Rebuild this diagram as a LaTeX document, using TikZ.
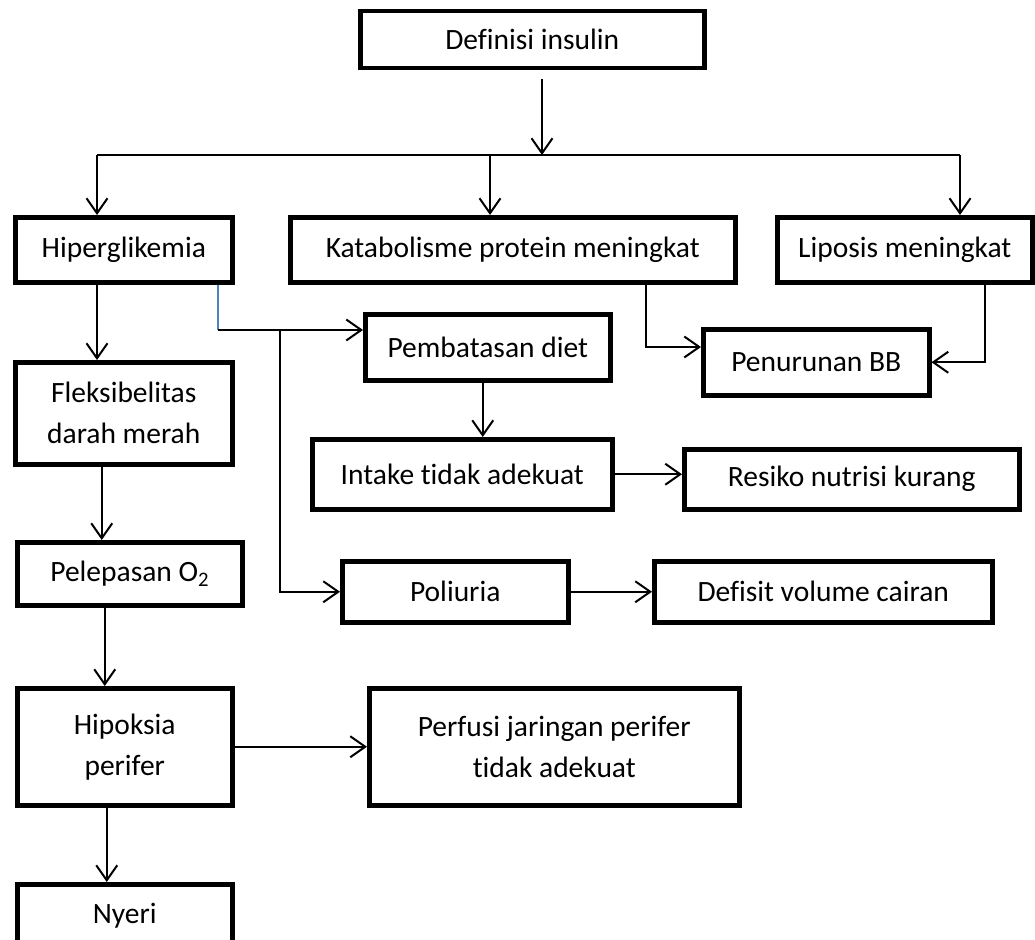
\documentclass[tikz,border=0pt]{standalone}
\usepackage{fontspec}
\setmainfont{Carlito}[Ligatures=NoCommon]
\usetikzlibrary{arrows.meta,calc}
\definecolor{wordblue}{RGB}{79,129,189}

\begin{document}
\begin{tikzpicture}[x=1pt,y=-1pt,
	every node/.style={draw,line width=4.5pt,anchor=north west,inner sep=0pt,align=center,font=\fontsize{29.5}{41}\selectfont},
	arr/.style={line width=2pt,-{Straight Barb[length=15pt,width=21pt,line width=2pt]}}]
	\useasboundingbox (0,0) rectangle (1035,939);
	%boxes placed by hand, top row first
	\node[minimum width=344,minimum height=57] (def) at (358,9){\raisebox{-4pt}{Definisi insulin}};
	\node[minimum width=217,minimum height=65] (hip) at (13,215){Hiperglikemia};
	\node[minimum width=445,minimum height=65] (kat) at (288,215){Katabolisme protein meningkat};
	\node[minimum width=255,minimum height=65] (lip) at (775,215){Liposis meningkat};
	%% middle boxes
	\node[minimum width=217,minimum height=102] (flek) at (13,360){Fleksibelitas\\darah merah};
	\node[minimum width=245,minimum height=66] (pemb) at (363,312){Pembatasan diet};
	\node[minimum width=226,minimum height=66] (pen) at (701,327){Penurunan BB};
	\node[minimum width=300,minimum height=70] (intake) at (310,437){Intake tidak adekuat};
	\node[minimum width=335,minimum height=60] (res) at (682,447){Resiko nutrisi kurang};
	\node[minimum width=225,minimum height=63] (pel) at (15,540){Pelepasan O\textsubscript{2}};
	\node[minimum width=226,minimum height=61] (pol) at (340,559){Poliuria};
	\node[minimum width=338,minimum height=61] (cair) at (652,559){Defisit volume cairan};
	%% bottom boxes
	\node[minimum width=215,minimum height=117] (hipo) at (15,686){Hipoksia\\perifer};
	\node[minimum width=370,minimum height=117] (perf) at (367,686){Perfusi jaringan perifer\\tidak adekuat};
	\node[minimum width=215,minimum height=62] (nyeri) at (15,882){Nyeri};
	%% bus under the top box
	\coordinate (busL) at (97,155);
	\coordinate (busK) at (490,155);
	\coordinate (busM) at (542,155);
	\coordinate (busR) at (960,155);
	\draw[arr] ($(def.south -| busM)+(0,9)$) -- (busM);
	\draw[line width=1.8pt] (busL) -- (busR);
	\draw[arr] (busL) -- (busL |- hip.north);
	\draw[arr] (busK) -- (busK |- kat.north);
	\draw[arr] (busR) -- (busR |- lip.north);
	%% branches of hiperglikemia
	\coordinate (split) at (218,330);
	\coordinate (tap) at (280,330);
	\draw[line width=1.8pt,wordblue] (split |- hip.south) -- (split);
	\draw[arr] (split) -- (split -| pemb.west);
	\draw[arr] (tap) |- (pol.west);
	\draw[arr] (busL |- hip.south) -- (busL |- flek.north);
	%% weight loss
	\coordinate (kp) at (646,347);
	\coordinate (lp) at (985,360);
	\draw[arr] (kp |- kat.south) -- (kp) -- (kp -| pen.west);
	\draw[arr] (lp |- lip.south) |- (pen.east);
	%% diet and fluids
	\draw[arr] ([xshift=-5pt]pemb.south) -- ([xshift=-5pt]pemb.south |- intake.north);
	\draw[arr] (intake.east) -- (intake.east -| res.west);
	\draw[arr] (pol.east) -- (cair.west);
	%% left column
	\draw[arr] ([xshift=-22pt]flek.south) -- ([xshift=-22pt]flek.south |- pel.north);
	\draw[arr] ([xshift=-20pt]hipo.north |- pel.south) -- ([xshift=-20pt]hipo.north);
	\draw[arr] (hipo.east) -- (perf.west);
	\draw[arr] ([xshift=-18pt]hipo.south) -- ([xshift=-18pt]hipo.south |- nyeri.north);
\end{tikzpicture}
\end{document}
